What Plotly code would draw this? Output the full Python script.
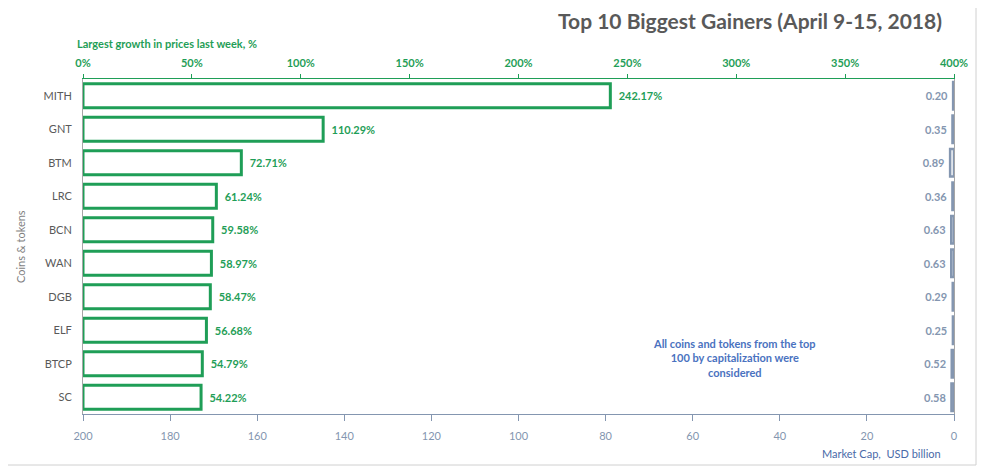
import plotly.graph_objects as go

coins = ["MITH", "GNT", "BTM", "LRC", "BCN", "WAN", "DGB", "ELF", "BTCP", "SC"]
growth_pct = [242.17, 110.29, 72.71, 61.24, 59.58, 58.97, 58.47, 56.68, 54.79, 54.22]
market_cap = [0.20, 0.35, 0.89, 0.36, 0.63, 0.63, 0.29, 0.25, 0.52, 0.58]
pct_ticks = [0, 50, 100, 150, 200, 250, 300, 350, 400]
cap_ticks = [200, 180, 160, 140, 120, 100, 80, 60, 40, 20, 0]

GREEN = "#1f9e57"
GREYBLUE = "#8496b0"
FONT = "Lato, Open Sans, sans-serif"

OFF = 8  # page body margin
W, H = 985 - OFF, 475 - OFF
# plot area in reference screen coordinates
X0, X1, Y0, Y1 = 83, 954, 79, 414
L, R, T, B = X0 - OFF, W - (X1 - OFF), Y0 - OFF, H - (Y1 - OFF)
PW, PH = X1 - X0, Y1 - Y0

def px(x):
    return (x - X0) / PW

def py(y):
    return (Y1 - y) / PH

fig = go.Figure()
fig.add_trace(go.Bar(
    y=coins, x=[g / 100 for g in growth_pct], orientation="h",
    xaxis="x", yaxis="y", width=0.72,
    marker=dict(color="white", line=dict(color=GREEN, width=3)),
    text=[f"\u00a0\u00a0{g:.2f}%" for g in growth_pct], textposition="outside",
    textfont=dict(color=GREEN, size=11, family=FONT, weight="bold"),
    cliponaxis=False, showlegend=False,
))
fig.add_trace(go.Bar(
    y=coins, x=market_cap, orientation="h",
    xaxis="x2", yaxis="y", width=0.82,
    marker=dict(color="white", line=dict(color=GREYBLUE, width=2.5)),
    text=[f"{m:.2f}\u00a0" for m in market_cap], textposition="outside",
    textfont=dict(color=GREYBLUE, size=11, family=FONT, weight="bold"),
    cliponaxis=False, showlegend=False,
))

fig.update_layout(
    width=W, height=H,
    margin=dict(l=L, r=R, t=T, b=B, autoexpand=False),
    paper_bgcolor="white", plot_bgcolor="white",
    barmode="overlay",
    font=dict(family=FONT),
    xaxis=dict(
        side="top", range=[0, 4], tickvals=[v / 100 for v in pct_ticks],
        ticktext=[f"{v}%" for v in pct_ticks],
        showgrid=False, zeroline=False, showline=True, linecolor=GREEN, linewidth=1,
        ticks="outside", ticklen=4, tickcolor=GREEN, ticklabelstandoff=3,
        tickfont=dict(color=GREEN, size=11, family=FONT, weight="bold"),
    ),
    xaxis2=dict(
        overlaying="x", side="bottom", range=[200, 0], tickvals=cap_ticks,
        showgrid=False, zeroline=False, showline=True, linecolor=GREYBLUE, linewidth=1,
        ticks="outside", ticklen=6, tickcolor=GREYBLUE, ticklabelstandoff=6,
        tickfont=dict(color=GREYBLUE, size=11, family=FONT),
    ),
    yaxis=dict(
        autorange="reversed", showgrid=False, zeroline=False,
        showline=True, linecolor="#a6a6a6", linewidth=1, mirror=True,
        ticks="", ticklabelstandoff=8,
        tickfont=dict(color="#595959", size=11, family=FONT),
    ),
    shapes=[dict(type="rect", xref="paper", yref="paper",
                 x0=px(5), x1=px(976), y0=py(465), y1=py(7),
                 line=dict(color="#d0d0d0", width=1), fillcolor="rgba(0,0,0,0)", layer="below")],
    annotations=[
        dict(text="Top 10 Biggest Gainers (April 9-15, 2018)", xref="paper", yref="paper",
             x=px(944), y=py(21), xanchor="right", yanchor="middle", showarrow=False,
             font=dict(size=21, color="#595959", family=FONT, weight="bold")),
        dict(text="Largest growth in prices last week, %", xref="paper", yref="paper",
             x=px(75), y=py(44), xanchor="left", yanchor="middle", showarrow=False,
             font=dict(size=11, color=GREEN, family=FONT, weight="bold")),
        dict(text="Coins & tokens", xref="paper", yref="paper", textangle=-90,
             x=px(20), y=py(247), xanchor="center", yanchor="middle", showarrow=False,
             font=dict(size=11, color="#7f7f7f", family=FONT)),
        dict(text="Market Cap,  USD billion", xref="paper", yref="paper",
             x=px(943), y=py(453), xanchor="right", yanchor="middle", showarrow=False,
             font=dict(size=11, color="#4a6aa8", family=FONT)),
        dict(text="All coins and tokens from the top<br>100 by capitalization were<br>considered",
             xref="paper", yref="paper", x=px(734), y=py(358), xanchor="center", yanchor="middle",
             showarrow=False, align="center",
             font=dict(size=11, color="#4a72c0", family=FONT, weight="bold")),
    ],
)

fig.write_html("out.html")
